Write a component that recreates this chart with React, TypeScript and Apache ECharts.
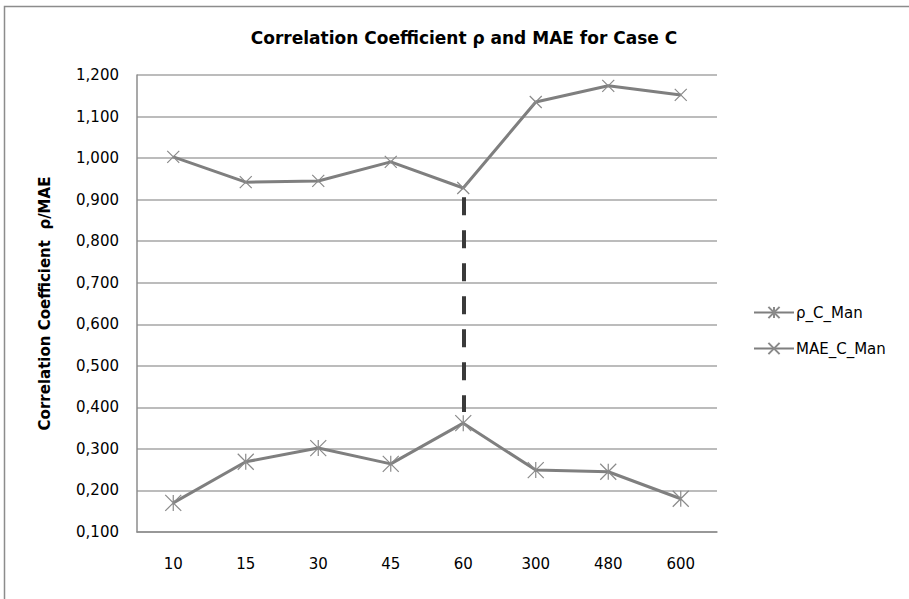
import React, { useEffect, useRef } from "react";
import * as echarts from "echarts";

const categories = ["10", "15", "30", "45", "60", "300", "480", "600"];
const rhoValues = [0.17, 0.269, 0.302, 0.264, 0.362, 0.249, 0.245, 0.18];
const maeValues = [1.003, 0.942, 0.945, 0.991, 0.928, 1.135, 1.174, 1.152];
const dropLineCategory = "60";
const dropLineEnds = [0.906, 0.389];
const yTicks = { min: 0.1, max: 1.2, interval: 0.1 };

const FONT = "DejaVu Sans";
const GRAY = "#7f7f7f";

export default function App() {
  const ref = useRef<HTMLDivElement>(null);
  useEffect(() => {
    if (!ref.current) return;
    const chart = echarts.init(ref.current, null, { renderer: "svg" });
    const asterisk = "path://M0,0 L10,10 M10,0 L0,10 M5,0 L5,10";
    const cross = "path://M0,0 L10,10 M10,0 L0,10";
    chart.setOption({
      animation: false,
      backgroundColor: "#ffffff",
      textStyle: { fontFamily: FONT },
      title: {
        text: "Correlation Coefficient ρ and MAE for Case C",
        left: 464,
        top: 29,
        padding: 0,
        textAlign: "center",
        textStyle: { fontFamily: FONT, fontSize: 17, fontWeight: "bold", color: "#000" },
      },
      graphic: [
        {
          type: "rect",
          shape: { x: 4.5, y: 6.5, width: 1000, height: 1000 },
          style: { fill: "none", stroke: "#8c8c8c", lineWidth: 1.5 },
          silent: true,
        },
      ],
      legend: {
        orient: "vertical",
        left: 748,
        top: 300,
        itemWidth: 40,
        itemHeight: 14,
        itemGap: 21,
        textStyle: { fontFamily: FONT, fontSize: 15, color: "#000", padding: [0, 0, 0, -3] },
        data: ["ρ_C_Man", "MAE_C_Man"],
      },
      grid: { left: 137, right: 192, top: 75, bottom: 67, containLabel: false },
      xAxis: {
        type: "category",
        data: categories,
        boundaryGap: true,
        axisLine: { show: true, lineStyle: { color: "#8c8c8c", width: 1.5 } },
        axisTick: { show: false },
        axisLabel: { fontFamily: FONT, fontSize: 15, color: "#000", margin: 24 },
      },
      yAxis: {
        type: "value",
        min: yTicks.min,
        max: yTicks.max,
        interval: yTicks.interval,
        name: "Correlation Coefficient  ρ/MAE",
        nameLocation: "middle",
        nameGap: 85,
        nameTextStyle: { fontFamily: FONT, fontSize: 15, fontWeight: "bold", color: "#000" },
        axisLine: { show: true, lineStyle: { color: "#8c8c8c", width: 1.5 } },
        axisTick: { show: false },
        axisLabel: {
          fontFamily: FONT,
          fontSize: 15,
          color: "#000",
          margin: 18,
          formatter: (v: number) => v.toFixed(3).replace(".", ","),
        },
        splitLine: { show: true, lineStyle: { color: "#a6a6a6", width: 1.5 } },
      },
      series: [
        {
          name: "ρ_C_Man",
          type: "line",
          data: rhoValues,
          symbol: asterisk,
          symbolSize: 16,
          lineStyle: { color: GRAY, width: 3 },
          itemStyle: { color: "rgba(0,0,0,0)", borderColor: "#8a8a8a", borderWidth: 1.2 },
          emphasis: { disabled: true },
        },
        {
          name: "MAE_C_Man",
          type: "line",
          data: maeValues,
          symbol: cross,
          symbolSize: 12,
          lineStyle: { color: GRAY, width: 3 },
          itemStyle: { color: "rgba(0,0,0,0)", borderColor: "#8a8a8a", borderWidth: 1.2 },
          emphasis: { disabled: true },
          markLine: {
            silent: true,
            symbol: ["none", "none"],
            label: { show: false },
            lineStyle: { color: "#3a3a3a", width: 4, type: [18, 15] },
            data: [
              [
                { coord: [dropLineCategory, dropLineEnds[0]] },
                { coord: [dropLineCategory, dropLineEnds[1]] },
              ],
            ],
          },
        },
      ],
    });
    return () => chart.dispose();
  }, []);
  return (
    <div
      ref={ref}
      style={{ position: "fixed", left: 0, top: 0, width: 909, height: 599 }}
    />
  );
}
